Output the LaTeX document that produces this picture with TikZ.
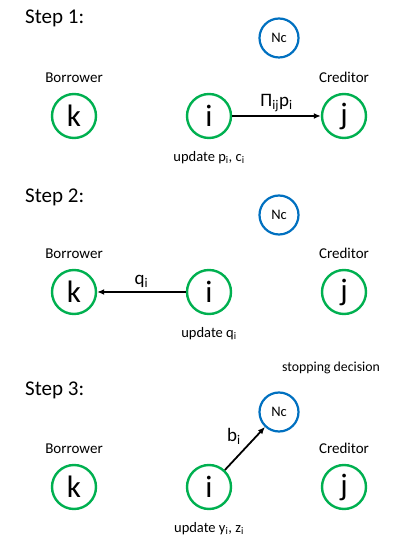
\documentclass[tikz,border=0pt]{standalone}
\usepackage{fontspec}
\setmainfont{Carlito}
\usetikzlibrary{positioning,arrows.meta}
\definecolor{agentgreen}{HTML}{00B050}
\definecolor{nodeblue}{HTML}{0070C0}

\begin{document}
\begin{tikzpicture}[x=1pt, y=1pt, node distance=6pt,
  agent/.style={circle, draw=agentgreen, line width=2.4pt, minimum size=44pt, inner sep=0pt, font=\fontsize{31}{33}\selectfont},
  nature/.style={circle, draw=nodeblue, line width=2.2pt, minimum size=39pt, inner sep=0pt, font=\fontsize{14.5}{16}\selectfont},
  steptitle/.style={anchor=west, inner sep=0pt, font=\fontsize{21}{23}\selectfont},
  rolelabel/.style={inner sep=0pt, font=\fontsize{15}{17}\selectfont},
  updatelabel/.style={inner sep=0pt, font=\fontsize{14.5}{16}\selectfont},
  flowlabel/.style={font=\fontsize{19}{21}\selectfont},
  flow/.style={-{Latex[length=7pt,width=6pt]}, line width=1.8pt}]
\useasboundingbox (0,0) rectangle (405,541);

% Step 1
\node[steptitle] (title1) at (25,523) {Step 1:};
\node[nature] (nc1) at (279,503) {Nc};
\node[agent] (k1) at (74,425) {k};
\node[agent] (i1) at (209,425) {i};
\node[agent] (j1) at (344,425) {j};
\node[rolelabel, above=10pt of k1] (borrower1) {Borrower};
\node[rolelabel, above=10pt of j1] (creditor1) {Creditor};
\node[updatelabel, below=12pt of i1] (update1) {update p\textsubscript{i}, c\textsubscript{i}};
\draw[flow] (i1) -- node[flowlabel, above] {Π\textsubscript{ij}p\textsubscript{i}} (j1);

% Step 2
\node[steptitle] (title2) at (25,344) {Step 2:};
\node[nature] (nc2) at (279,326) {Nc};
\node[agent] (k2) at (74,249) {k};
\node[agent] (i2) at (209,249) {i};
\node[agent] (j2) at (344,249) {j};
\node[rolelabel, above=10pt of k2] (borrower2) {Borrower};
\node[rolelabel, above=10pt of j2] (creditor2) {Creditor};
\node[updatelabel, below=12pt of i2] (update2) {update q\textsubscript{i}};
\draw[flow] (i2) -- node[flowlabel, above] {q\textsubscript{i}} (k2);

% Step 3
\node[updatelabel, font=\fontsize{13.8}{15}\selectfont] (stop3) at (331,173) {stopping decision};
\node[steptitle] (title3) at (25,151) {Step 3:};
\node[nature] (nc3) at (279,129) {Nc};
\node[agent] (k3) at (74,54) {k};
\node[agent] (i3) at (209,54) {i};
\node[agent] (j3) at (344,54) {j};
\node[rolelabel, above=10pt of k3] (borrower3) {Borrower};
\node[rolelabel, above=10pt of j3] (creditor3) {Creditor};
\node[updatelabel, below=12pt of i3] (update3) {update y\textsubscript{i}, z\textsubscript{i}};
\draw[flow] (i3) -- node[flowlabel, above left] {b\textsubscript{i}} (nc3);
\end{tikzpicture}
\end{document}
